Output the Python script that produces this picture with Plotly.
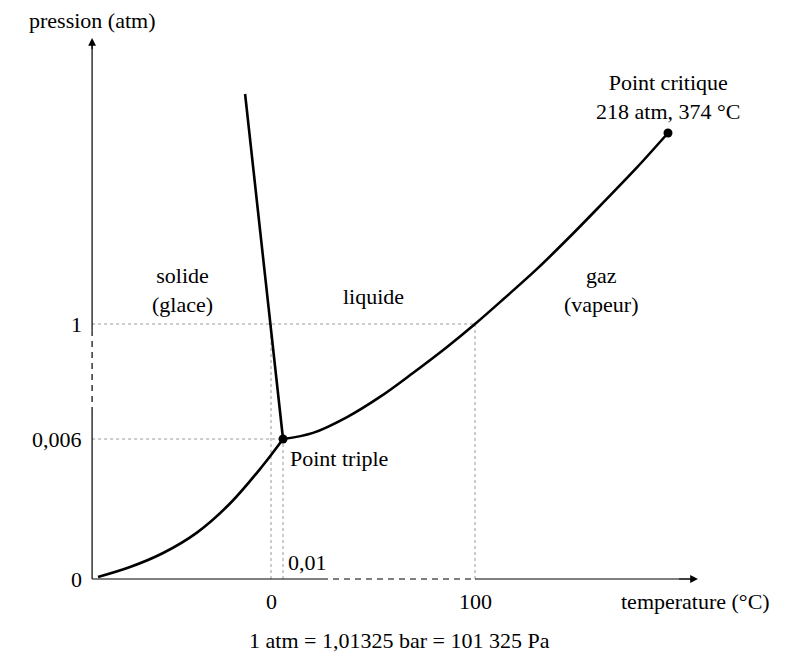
import plotly.graph_objects as go

# Schematic coordinates: X in "temperature position" units (0 °C -> 0, 100 °C -> 100),
# Y in "pressure position" units (0 atm -> 0, 1 atm -> 1). The diagram is not to scale.

# Sublimation curve (solid <-> gas)
sublimation_T = [-84.8, -69.1, -52.9, -36.3, -20.1, -4.4, 5.9]
sublimation_P = [0.008, 0.047, 0.102, 0.182, 0.296, 0.441, 0.549]

# Fusion curve (solid <-> liquid)
fusion_T = [5.9, -12.7]
fusion_P = [0.549, 1.902]

# Vaporization curve (liquid <-> gas)
vapor_T = [5.9, 20.6, 37.3, 53.4, 69.6, 86.3, 100.0, 113.7, 130.4, 146.6, 162.7, 179.4, 194.6]
vapor_P = [0.549, 0.573, 0.635, 0.714, 0.808, 0.910, 1.000, 1.096, 1.216, 1.343, 1.475, 1.614, 1.749]

# Special points
triple_T, triple_P = 5.9, 0.549
critical_T, critical_P = 194.6, 1.749

# Tick labels
x_tick_pos = [0, 100]
x_tick_text = ["0", "100"]
y_tick_pos = [0, 0.549, 1]
y_tick_text = ["0", "0,006", "1"]

# Axis extents
x_axis_start, x_axis_end = -87.7, 209.3
y_axis_end = 2.122

FONT = "Liberation Serif"
FS = 22
BLACK = "#000000"
GRAY = "#9a9a9a"

fig = go.Figure()

# Dotted guide lines
guides = [
    ([x_axis_start, 100], [1, 1]),
    ([x_axis_start, triple_T], [triple_P, triple_P]),
    ([0, 0], [0, 1]),
    ([triple_T, triple_T], [0, triple_P]),
    ([100, 100], [0, 1]),
]
for gx, gy in guides:
    fig.add_trace(go.Scatter(x=gx, y=gy, mode="lines",
                             line=dict(color=GRAY, width=1, dash="dot"),
                             hoverinfo="skip", showlegend=False))

# Axes: x axis (solid / dashed / solid)
fig.add_trace(go.Scatter(x=[x_axis_start, 25], y=[0, 0], mode="lines",
                         line=dict(color=BLACK, width=1.2), showlegend=False))
fig.add_trace(go.Scatter(x=[25, 100], y=[0, 0], mode="lines",
                         line=dict(color=BLACK, width=1.2, dash="6px,5px"), showlegend=False))
fig.add_trace(go.Scatter(x=[100, x_axis_end - 3], y=[0, 0], mode="lines",
                         line=dict(color=BLACK, width=1.2), showlegend=False))
# y axis (solid / dashed / solid)
fig.add_trace(go.Scatter(x=[x_axis_start, x_axis_start], y=[0, 0.651], mode="lines",
                         line=dict(color=BLACK, width=1.2), showlegend=False))
fig.add_trace(go.Scatter(x=[x_axis_start, x_axis_start], y=[0.651, 0.975], mode="lines",
                         line=dict(color=BLACK, width=1.2, dash="6px,5px"), showlegend=False))
fig.add_trace(go.Scatter(x=[x_axis_start, x_axis_start], y=[0.975, y_axis_end - 0.02], mode="lines",
                         line=dict(color=BLACK, width=1.2), showlegend=False))

# Phase curves
for cx, cy in [(sublimation_T, sublimation_P), (fusion_T, fusion_P), (vapor_T, vapor_P)]:
    fig.add_trace(go.Scatter(x=cx, y=cy, mode="lines",
                             line=dict(color=BLACK, width=2.6, shape="spline", smoothing=1.0),
                             hoverinfo="skip", showlegend=False))

# Points
fig.add_trace(go.Scatter(x=[triple_T, critical_T], y=[triple_P, critical_P], mode="markers",
                         marker=dict(color=BLACK, size=9), showlegend=False))

ann = []
# Arrow heads
ann.append(dict(x=x_axis_end, y=0, ax=x_axis_end - 10, ay=0, xref="x", yref="y",
                axref="x", ayref="y", showarrow=True, arrowhead=2, arrowsize=1.3,
                arrowwidth=1.2, arrowcolor=BLACK, text=""))
ann.append(dict(x=x_axis_start, y=y_axis_end, ax=x_axis_start, ay=y_axis_end - 0.05,
                xref="x", yref="y", axref="x", ayref="y", showarrow=True, arrowhead=2,
                arrowsize=1.3, arrowwidth=1.2, arrowcolor=BLACK, text=""))

def txt(x, y, s, xa="center", ya="middle", xs=0, ys=0, size=FS):
    ann.append(dict(x=x, y=y, xref="x", yref="y", text=s, showarrow=False,
                    xanchor=xa, yanchor=ya, xshift=xs, yshift=ys,
                    font=dict(family=FONT, size=size, color=BLACK)))

# Tick labels
for p, t in zip(x_tick_pos, x_tick_text):
    txt(p, 0, t, ya="middle", ys=-22)
for p, t in zip(y_tick_pos, y_tick_text):
    txt(x_axis_start, p, t, xa="right", xs=-8)
txt(triple_T, 0, "0,01", xa="left", ys=17, xs=3)

# Axis titles
txt(x_axis_start, y_axis_end, "pression (atm)", ys=17)
txt(x_axis_end, 0, "temperature (°C)", xa="right", ys=-22, xs=74)
txt(63, 0, "1 atm = 1,01325 bar = 101 325 Pa", ys=-61)

# Region labels
txt(-43.6, 1.133, "solide<br>(glace)")
txt(50, 1.108, "liquide")
txt(162, 1.133, "gaz<br>(vapeur)")
txt(triple_T, triple_P, "Point triple", xa="left", ys=-19, xs=5)
txt(critical_T, critical_P, "Point critique<br>218 atm, 374 °C", ya="bottom", ys=7)

# The page body adds an 8 px offset; ranges are chosen so the drawing lands in place.
fig.update_layout(
    width=799, height=657, autosize=False,
    margin=dict(l=0, r=0, t=0, b=0),
    paper_bgcolor="white", plot_bgcolor="white",
    xaxis=dict(range=[-128.922, 262.745], visible=False, fixedrange=True),
    yaxis=dict(range=[-0.33725, 2.23922], visible=False, fixedrange=True),
    annotations=ann,
    showlegend=False,
)

fig.write_html("out.html")
